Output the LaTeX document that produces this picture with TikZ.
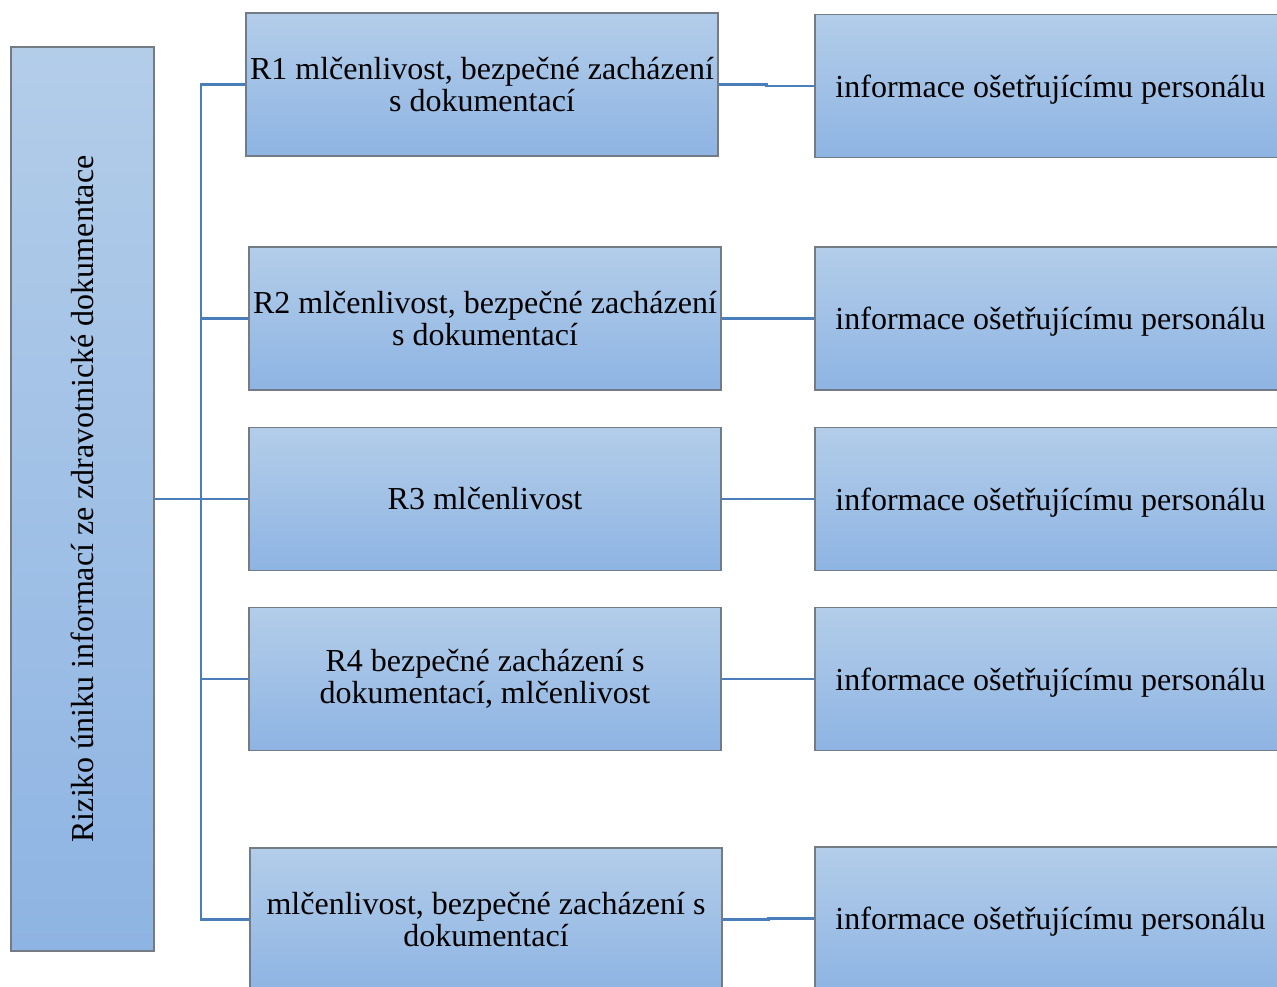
\documentclass[tikz,border=0pt]{standalone}
\usepackage{fontspec}
\setmainfont{Liberation Serif}
\usetikzlibrary{calc}
\definecolor{boxtop}{RGB}{179,205,233}
\definecolor{boxbot}{RGB}{142,180,227}
\definecolor{boxline}{RGB}{115,123,135}
\definecolor{linkblue}{RGB}{74,126,187}
\tikzset{
  box/.style={draw=boxline, line width=1.1pt, top color=boxtop, bottom color=boxbot,
    rectangle, inner sep=2pt, align=center,
    font=\fontsize{24}{24}\selectfont},
  midbox/.style={box, minimum width=354pt, minimum height=107.25pt},
  infobox/.style={box, minimum width=353.25pt, minimum height=107.25pt, text depth=0pt},
  link/.style={draw=linkblue, line width=1.8pt}
}
\begin{document}
\begin{tikzpicture}[x=0.75pt,y=-0.75pt]
\useasboundingbox (0,0) rectangle (1277,987);
\clip (0,0) rectangle (1277,987);
% root box on the left
\node[box, minimum width=107.25pt, minimum height=678pt] (root) at (82.5,499) {};
\node[rotate=90, font=\fontsize{24}{24}\selectfont] (roottext) at (82.5,499)
  {Riziko úniku informací ze zdravotnické dokumentace};
% risk boxes
\node[midbox] (r1) at (482,84.5) {R1 mlčenlivost, bezpečné zacházení\\ s dokumentací};
\node[midbox] (r2) at (485,318.5) {R2 mlčenlivost, bezpečné zacházení\\ s dokumentací};
\node[midbox] (r3) at (485,499) {R3 mlčenlivost};
\node[midbox] (r4) at (485,679) {R4 bezpečné zacházení s\\ dokumentací, mlčenlivost};
\node[midbox] (r5) at (486,919.5) {mlčenlivost, bezpečné zacházení s\\ dokumentací};
% measure boxes
\node[infobox] (i1) at (1050.5,86) {informace ošetřujícímu personálu};
\node[infobox] (i2) at (1050.5,318.5) {informace ošetřujícímu personálu};
\node[infobox] (i3) at (1050.5,499) {informace ošetřujícímu personálu};
\node[infobox] (i4) at (1050.5,679) {informace ošetřujícímu personálu};
\node[infobox] (i5) at (1050.5,918.5) {informace ošetřujícímu personálu};
% tree connectors
\coordinate (trunk) at (201,499);
\draw[link] (root.east) -- (trunk);
\foreach \r in {r1,r2,r3,r4,r5}{
  \draw[link] (trunk) |- (\r.west);
}
\foreach \r/\i in {r1/i1,r2/i2,r3/i3,r4/i4,r5/i5}{
  \draw[link] (\r.east) -| ($(\r.east)!.5!(\i.west)$) |- (\i.west);
}
\end{tikzpicture}
\end{document}
